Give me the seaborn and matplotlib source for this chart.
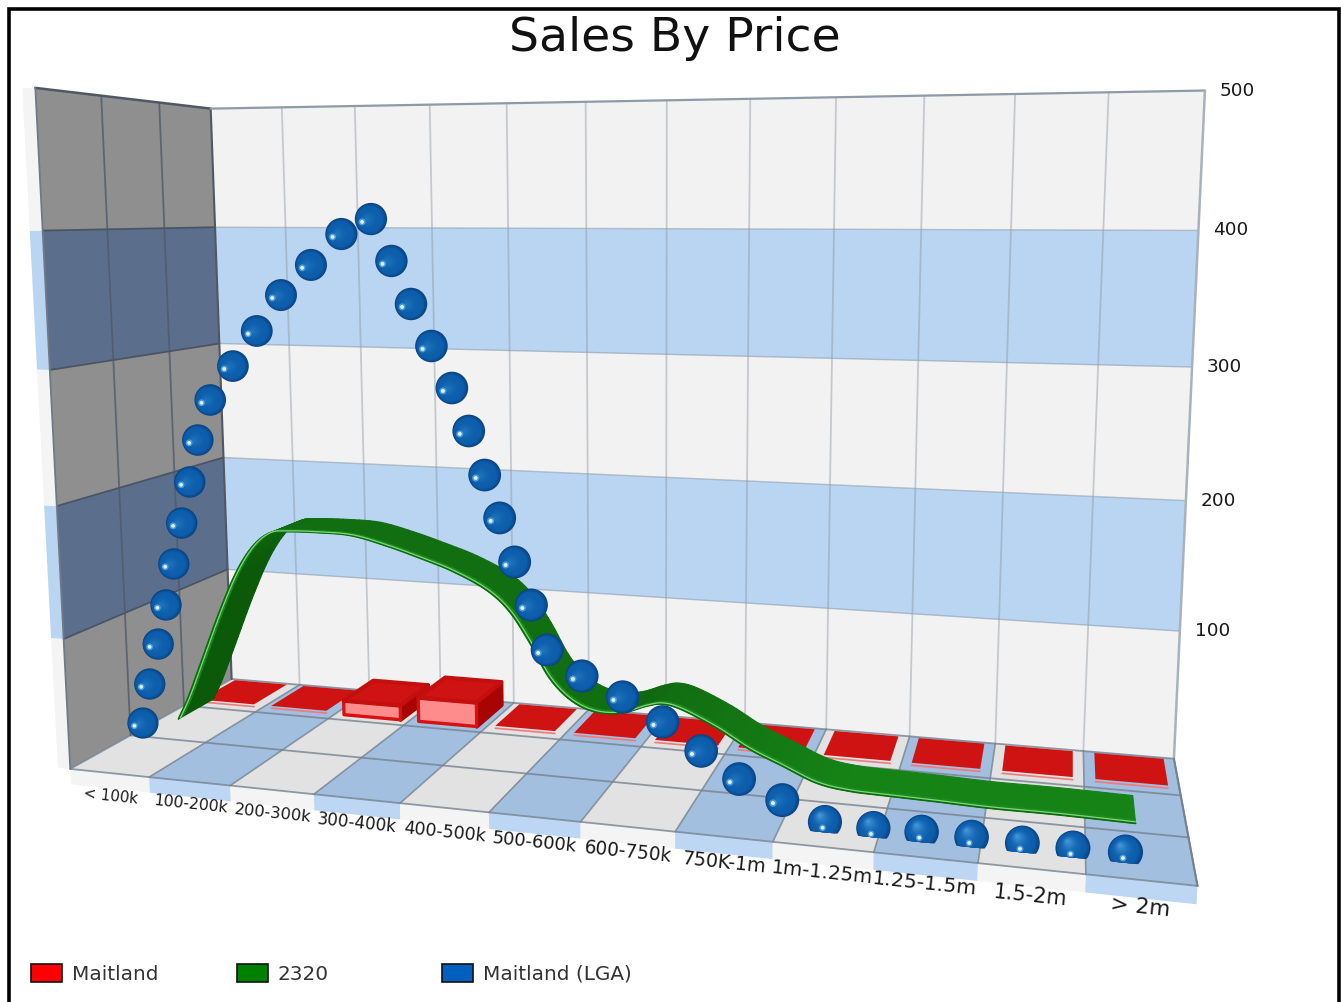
import numpy as np
import matplotlib
matplotlib.use("Agg")
import matplotlib.pyplot as plt
from matplotlib.patches import Polygon, Rectangle
from matplotlib.colors import to_rgb
import seaborn as sns

# ---------- data ----------
title = "Sales By Price"
categories = ["< 100k", "100-200k", "200-300k", "300-400k", "400-500k", "500-600k",
              "600-750k", "750K-1m", "1m-1.25m", "1.25-1.5m", "1.5-2m", "> 2m"]
value_ticks = [100, 200, 300, 400, 500]
series_names = ["Maitland", "2320", "Maitland (LGA)"]
series_colors = ["#ff0000", "#008000", "#0060c0"]

maitland_vals = [2, 2, 12, 20, 2, 2, 2, 2, 2, 2, 2, 2]

pc2320_x = [0.53, 0.67, 0.87, 1.12, 1.36, 1.58, 1.8, 2.02, 2.44, 2.85, 3.27, 3.67, 4.07, 4.47, 4.74, 4.97,
            5.21, 5.47, 5.75, 6.05, 6.33, 6.51, 6.73, 7.12, 7.48, 7.85, 8.22, 8.57, 9.0, 9.45, 10.04, 10.72, 11.5]
pc2320_vals = [12.3, 30.4, 61.7, 101.0, 134.1, 155.6, 167.4, 169.8, 170.5, 169.6, 163.4, 155.7, 147.0, 134.5,
               119.5, 97.6, 70.4, 54.2, 47.3, 48.2, 55.0, 57.5, 54.5, 42.9, 29.3, 18.8, 8.5, 4.8, 3.9, 3.2, 2.0, 2.0, 1.1]

lga_x = [0.65, 0.76, 0.89, 1.01, 1.13, 1.25, 1.37, 1.49, 1.66, 1.95, 2.25, 2.55, 2.91, 3.27, 3.61, 3.83, 4.04,
         4.26, 4.48, 4.66, 4.83, 4.99, 5.15, 5.33, 5.5, 5.88, 6.32, 6.75, 7.16, 7.56, 8.01, 8.45, 8.94, 9.42,
         9.91, 10.4, 10.88, 11.37]
lga_vals = [29.4, 60.5, 92.1, 122.7, 154.4, 185.7, 216.8, 248.2, 278.0, 303.2, 328.9, 354.8, 376.3, 398.0, 408.4,
            379.6, 350.0, 321.1, 292.2, 262.5, 232.0, 202.2, 171.5, 141.5, 110.1, 93.3, 80.6, 65.2, 46.9, 29.4,
            17.4, 4.9, 4.0, 4.7, 4.6, 4.0, 4.0, 4.8]

# ---------- perspective scale: (category, value, depth) -> figure pixels ----------
CAMERA = np.array([[0.92019, -0.03696, 0.20582, 0.07028],
                   [-0.0362, -0.68604, 0.04041, 0.76893],
                   [-0.17288, -0.05689, 0.19193, 1.0]])
NCAT = len(categories)
VMAX = 500.0


def project(x, v, z):
    x, v, z = np.broadcast_arrays(np.asarray(x, float), np.asarray(v, float), np.asarray(z, float))
    h = CAMERA @ np.vstack([x.ravel() / NCAT, v.ravel() / VMAX, z.ravel(), np.ones(x.size)])
    return h[0] / h[2] * 1000, h[1] / h[2] * 1000


def quad(ax, corners, fc, ec="none", lw=0, zorder=1, join="miter"):
    xs, ys = project(*np.array(corners).T)
    p = Polygon(np.c_[xs, ys], closed=True, fc=fc, ec=ec, lw=lw, zorder=zorder, joinstyle=join)
    ax.add_patch(p)
    return p


def seg(ax, a, b, color, lw, zorder=2, alpha=1.0):
    xs, ys = project(*np.array([a, b]).T)
    ax.plot(xs, ys, color=color, lw=lw, zorder=zorder, alpha=alpha, solid_capstyle="round")


def spline_path(xs, ys, steps=6):
    """Catmull-Rom drawing path through the read points: the ribbon is a smoothed line in the chart."""
    p = np.c_[xs, ys]
    p = np.vstack([p[0], p, p[-1]])
    out = []
    for i in range(1, len(p) - 2):
        for t in np.linspace(0, 1, steps, endpoint=False):
            out.append(0.5 * (2 * p[i] + (p[i + 1] - p[i - 1]) * t
                              + (2 * p[i - 1] - 5 * p[i] + 4 * p[i + 1] - p[i + 2]) * t ** 2
                              + (3 * p[i] - p[i - 1] - 3 * p[i + 1] + p[i + 2]) * t ** 3))
    out.append(p[-1])
    out = np.array(out)
    return out[:, 0], out[:, 1]


sns.set_theme(style="white")
plt.rcParams["font.family"] = ["DejaVu Sans"]
fig = plt.figure(figsize=(13.41, 10.02), dpi=100, facecolor="white")
ax = fig.add_axes([0, 0, 1, 1])

# ---------- walls ----------
WALL, WALL_BAND = "#f2f2f2", "#b9d5f2"
SIDE, SIDE_BAND = "#8f8f8f", "#5b6f8d"
EDGE_PALE = "#f4f4f4"
bands = [(0, 100, 0), (100, 200, 1), (200, 300, 0), (300, 400, 1), (400, 500, 0)]
for lo, hi, blue in bands:
    quad(ax, [(0, lo, 1), (NCAT, lo, 1), (NCAT, hi, 1), (0, hi, 1)], WALL_BAND if blue else WALL)
    quad(ax, [(0, lo, 0), (0, lo, 1), (0, hi, 1), (0, hi, 0)], SIDE_BAND if blue else SIDE)
    quad(ax, [(-0.16, lo, 0), (0, lo, 0), (0, hi, 0), (-0.16, hi, 0)], WALL_BAND if blue else EDGE_PALE)

# ---------- floor ----------
for i in range(NCAT):
    odd = i % 2 == 1
    quad(ax, [(i, 0, 0), (i + 1, 0, 0), (i + 1, 0, 1), (i, 0, 1)], "#a2bfe0" if odd else "#e2e2e2")
    quad(ax, [(i, -12, 0), (i + 1, -12, 0), (i + 1, 0, 0), (i, 0, 0)], "#bcd6f3" if odd else EDGE_PALE)

# ---------- grid ----------
for k in range(1, NCAT):
    seg(ax, (k, 0, 1), (k, 500, 1), "#8c97a3", 1.3, alpha=0.45)
for k in range(0, NCAT + 1):
    seg(ax, (k, 0, 0), (k, 0, 1), "#75828f", 1.2, alpha=0.8)
for z in (1 / 3, 2 / 3, 0, 1):
    seg(ax, (0, 0, z), (NCAT, 0, z), "#75828f", 1.3, alpha=0.8)
for v in value_ticks[:-1]:
    seg(ax, (0, v, 1), (NCAT, v, 1), "#8c9bad", 1.0, alpha=0.6)
    seg(ax, (0, v, 0), (0, v, 1), "#4a5564", 1.3)
for z in (1 / 3, 2 / 3):
    seg(ax, (0, 0, z), (0, 500, z), "#4f5a68", 1.3, alpha=0.8)
seg(ax, (0, 500, 0), (0, 500, 1), "#4f5864", 1.8)
seg(ax, (0, 0, 0), (0, 500, 0), "#6f7a86", 1.3)
seg(ax, (0, 0, 1), (0, 500, 1), "#4f5864", 1.5)
seg(ax, (0, 500, 1), (NCAT, 500, 1), "#8e9aa8", 1.6)
seg(ax, (NCAT, 0, 1), (NCAT, 500, 1), "#a8b2bd", 1.8)
seg(ax, (NCAT, 0, 0), (NCAT, 0, 1), "#75828f", 1.5)

# ---------- Maitland: boxes ----------
Z0, Z1 = 0.72, 0.965
PAD = 0.12
for i, val in enumerate(maitland_vals):
    x0, x1 = i + PAD, i + 1 - PAD
    if val > 5:
        quad(ax, [(x1, 0, Z0), (x1, 0, Z1), (x1, val, Z1), (x1, val, Z0)], "#a90404", "#a90404", 3.0, 5, "round")
        quad(ax, [(x0, 0, Z0), (x1, 0, Z0), (x1, val, Z0), (x0, val, Z0)], "#ff8c8c", "#d81010", 2.4, 5, "round")
        quad(ax, [(x0, val, Z0), (x1, val, Z0), (x1, val, Z1), (x0, val, Z1)], "#cf1313", "#c40f0f", 3.0, 5, "round")
    else:
        quad(ax, [(x0, val, Z0), (x1, val, Z0), (x1, val, Z1), (x0, val, Z1)], "#cf1212", zorder=5)
        seg(ax, (x0, 0, Z0), (x1, 0, Z0), "#f07a7a", 1.2, zorder=5)

# ---------- 2320: ribbon ----------
gx, gv = spline_path(np.array(pc2320_x), np.array(pc2320_vals))
ZF, ZB = 0.39, 0.615
fx, fy = project(gx, gv, ZF)
slope_dark, slope_mid, flat_col = np.array(to_rgb("#0a5a0a")), np.array(to_rgb("#116e11")), np.array(to_rgb("#168316"))
for i in range(len(gx) - 1):
    dx = max(gx[i + 1] - gx[i], 1e-3)
    rise = (gv[i + 1] - gv[i]) / dx
    t = np.clip(rise / 120, 0, 1)
    u = np.clip((gx[i] - 6.5) / 2, 0, 1)
    col = (1 - u) * ((1 - t) * slope_mid + t * slope_dark) + u * flat_col
    quad(ax, [(gx[i], gv[i], ZF), (gx[i + 1], gv[i + 1], ZF), (gx[i + 1], gv[i + 1], ZB), (gx[i], gv[i], ZB)],
         col, col, 0.8, 6, "round")
    quad(ax, [(gx[i], gv[i], ZF), (gx[i + 1], gv[i + 1], ZF), (gx[i + 1], gv[i + 1], ZF + 0.03), (gx[i], gv[i], ZF + 0.03)],
         "#1c8a1c", "#1c8a1c", 0.5, 6, "round")
sns.lineplot(x=fx, y=fy, sort=False, estimator=None, color="#0d6d0d", lw=1.3, ax=ax, zorder=7, legend=False)
hx, hy = project(gx, gv, ZF + 0.012)
sns.lineplot(x=hx, y=hy, sort=False, estimator=None, color="#7fd67f", lw=0.9, ax=ax, zorder=7, legend=False)

# ---------- Maitland (LGA): spheres ----------
bx, bv = np.array(lga_x), np.array(lga_vals)
ZS = 0.13
px, py = project(bx, bv, ZS)
radius = 15.5 + bx / NCAT * 2.2
cx, cy = project([-1, 14, 14, -1], [-2.5, -2.5, 700, 700], ZS)
clip_poly = Polygon(np.c_[cx, cy], closed=True, transform=ax.transData)


def blob(xs, ys, r, color, zorder):
    sns.scatterplot(x=xs, y=ys, s=(2 * r * 0.72) ** 2, color=color, linewidth=0, ax=ax, zorder=zorder, legend=False)
    ax.collections[-1].set_clip_path(clip_poly)


def spheres(mask, off, hl, hl_size, inner_hex):
    xs, ys, r = px[mask], py[mask], radius[mask]
    edge, mid, inner = np.array(to_rgb("#0a4585")), np.array(to_rgb("#0c5dab")), np.array(to_rgb(inner_hex))
    n = 16
    for j, t in enumerate(np.linspace(0, 1, n)):
        col = edge + (mid - edge) * t / 0.2 if t < 0.2 else mid + (inner - mid) * ((t - 0.2) / 0.8) ** 2
        blob(xs + off[0] * r * t, ys + off[1] * r * t, r * (1 - 0.9 * t), col, 8 + j * 0.01)
    blob(xs + hl[0] * r, ys + hl[1] * r, r * hl_size * 1.8, "#4f9cd8", 8.3)
    blob(xs + hl[0] * r, ys + hl[1] * r, r * hl_size, "#dff0fa", 8.4)


round_mask = bv > 10
spheres(round_mask, (-0.3, 0.04), (-0.55, 0.18), 0.12, "#1f74bc")
spheres(~round_mask, (-0.3, -0.38), (-0.14, 0.34), 0.11, "#3f93d6")

# ---------- text ----------
ax.text(675, 38, title, ha="center", va="center", fontsize=34, color="#111111", zorder=20)
for v in value_ticks:
    tx, ty = project(NCAT, v, 1)
    ax.text(tx[0] + 15, ty[0], str(v), ha="left", va="center", fontsize=13.3, color="#1a1a1a", zorder=20)
for i, lab in enumerate(categories):
    tx, ty = project(i + 0.5, -18, 0)
    ex, ey = project([i, i + 1], [0, 0], [0, 0])
    ang = -np.degrees(np.arctan2(ey[1] - ey[0], ex[1] - ex[0]))
    ax.text(tx[0], ty[0], lab, ha="center", va="center", rotation=ang, rotation_mode="anchor",
            fontsize=11.5 * (0.94 + i * 0.037), color="#1a1a1a", zorder=20)

# ---------- legend ----------
for name, col, x0 in zip(series_names, series_colors, [31, 237, 442]):
    ax.add_patch(Rectangle((x0, 964), 31, 18, fc=col, ec="#111111", lw=1.2, zorder=20))
    ax.text(x0 + 41, 974, name, ha="left", va="center", fontsize=14.4, color="#333333", zorder=20)

# ---------- frame ----------
ax.plot([9, 9, 1339, 1339], [1002, 9, 9, 1002], color="black", lw=2.6, zorder=30, solid_joinstyle="miter")

ax.set_xlim(0, 1341)
ax.set_ylim(1002, 0)
ax.axis("off")
fig.savefig("out.png", dpi=100, facecolor="white")
